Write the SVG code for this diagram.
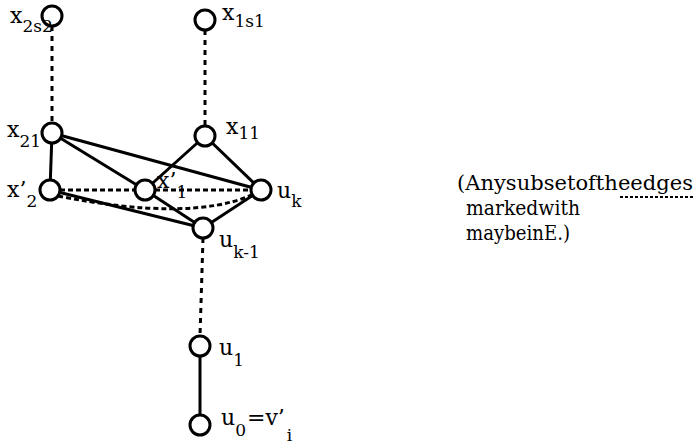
<svg xmlns="http://www.w3.org/2000/svg" width="698" height="447" viewBox="0 0 698 447">
  <style>
    .node { fill: #fff; stroke: #000; stroke-width: 3; }
    .edge { stroke: #000; stroke-width: 3; fill: none; }
    .dash { stroke: #000; stroke-width: 3; fill: none; stroke-dasharray: 5 3; }
    .dot { stroke: #000; stroke-width: 3; fill: none; stroke-dasharray: 5 5; }
    text { font-family: "DejaVu Serif", "Liberation Serif", serif; fill: #000; }
    .lbl { font-size: 22px; }
    .sub { font-size: 17px; }
    .legend { font-size: 21px; }
  </style>
  <rect width="698" height="447" fill="#fff"/>

  <g id="connectors">
    <line class="dot" x1="52" y1="26" x2="52" y2="124"/>
    <line class="dot" x1="205" y1="30" x2="205" y2="127"/>
    <line class="edge" x1="52" y1="133" x2="50" y2="190"/>
    <line class="edge" x1="52" y1="133" x2="261" y2="190"/>
    <line class="edge" x1="52" y1="133" x2="145" y2="190"/>
    <line class="edge" x1="145" y1="190" x2="203" y2="228"/>
    <line class="edge" x1="205" y1="136" x2="145" y2="190"/>
    <line class="edge" x1="205" y1="136" x2="261" y2="190"/>
    <line class="edge" x1="50" y1="190" x2="203" y2="228"/>
    <line class="edge" x1="261" y1="190" x2="203" y2="228"/>
    <line class="dash" x1="60" y1="190" x2="135" y2="190"/>
    <line class="dash" x1="155" y1="190" x2="251" y2="190"/>
    <path class="dash" d="M 58 196 Q 190 222 252 195"/>
    <line class="dot" x1="203" y1="238" x2="200" y2="336"/>
    <line class="edge" x1="200" y1="346" x2="200" y2="425"/>
  </g>

  <g id="x2s2">
    <circle class="node" cx="52" cy="16" r="10"/>
    <text class="lbl" x="10" y="23">x<tspan class="sub" dy="9">2s2</tspan></text>
  </g>
  <g id="x1s1">
    <circle class="node" cx="205" cy="20" r="10"/>
    <text class="lbl" x="222" y="20">x<tspan class="sub" dy="7">1s1</tspan></text>
  </g>
  <g id="x21">
    <circle class="node" cx="52" cy="133" r="10"/>
    <text class="lbl" x="7" y="137">x<tspan class="sub" dy="10">21</tspan></text>
  </g>
  <g id="x11">
    <circle class="node" cx="205" cy="136" r="10"/>
    <text class="lbl" x="226" y="134">x<tspan class="sub" dy="5">11</tspan></text>
  </g>
  <g id="x2p">
    <circle class="node" cx="50" cy="190" r="10"/>
    <text class="lbl" x="7" y="197">x’<tspan class="sub" dy="10">2</tspan></text>
  </g>
  <g id="x1p">
    <circle class="node" cx="145" cy="190" r="10"/>
    <text class="lbl" x="157" y="188">x’<tspan class="sub" dy="10">1</tspan></text>
  </g>
  <g id="uk">
    <circle class="node" cx="261" cy="190" r="10"/>
    <text class="lbl" x="277" y="198">u<tspan class="sub" dy="9">k</tspan></text>
  </g>
  <g id="uk1">
    <circle class="node" cx="203" cy="228" r="10"/>
    <text class="lbl" x="219" y="247">u<tspan class="sub" dy="11">k-1</tspan></text>
  </g>
  <g id="u1">
    <circle class="node" cx="200" cy="346" r="10"/>
    <text class="lbl" x="219" y="355">u<tspan class="sub" dy="11">1</tspan></text>
  </g>
  <g id="u0">
    <circle class="node" cx="200" cy="425" r="10"/>
    <text class="lbl" x="221" y="425">u<tspan class="sub" dy="11">0</tspan><tspan dx="1" dy="-11">=v’</tspan><tspan class="sub" dx="2" dy="16">i</tspan></text>
  </g>

  <g id="legend">
    <text class="legend" x="457" y="190" textLength="236" lengthAdjust="spacingAndGlyphs">(Anysubsetoftheedges</text>
    <text class="legend" x="466" y="215" textLength="114" lengthAdjust="spacingAndGlyphs">markedwith</text>
    <line x1="620" y1="197" x2="693" y2="197" stroke="#000" stroke-width="2" stroke-dasharray="3 2"/>
    <text class="legend" x="466" y="240" textLength="104" lengthAdjust="spacingAndGlyphs">maybeinE.)</text>
  </g>
</svg>
